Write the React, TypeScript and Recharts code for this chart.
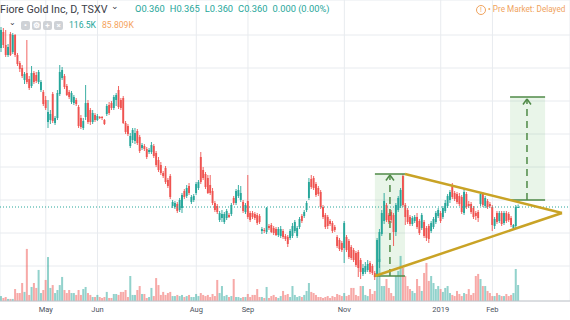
import React from 'react';
import {
  ComposedChart,
  Bar,
  XAxis,
  YAxis,
  CartesianGrid,
  ReferenceLine,
  ReferenceArea,
} from 'recharts';

// ---- daily OHLC (CAD), index 0 = first visible session (early April 2018) ----
const opens = [
  0.678, 0.710, 0.684, 0.664, 0.706, 0.670, 0.704, 0.664, 0.648, 0.638,
  0.614, 0.628, 0.616, 0.602, 0.628, 0.624, 0.610, 0.594, 0.590, 0.574,
  0.530, 0.534, 0.586, 0.528, 0.538, 0.586, 0.618, 0.622, 0.602, 0.590,
  0.570, 0.568, 0.574, 0.560, 0.538, 0.518, 0.540, 0.568, 0.554, 0.530,
  0.544, 0.534, 0.540, 0.540, 0.534, 0.546, 0.564, 0.568, 0.558, 0.574,
  0.594, 0.574, 0.578, 0.528, 0.522, 0.482, 0.494, 0.492, 0.512, 0.500,
  0.478, 0.482, 0.476, 0.470, 0.470, 0.482, 0.468, 0.454, 0.444, 0.428,
  0.438, 0.414, 0.422, 0.362, 0.360, 0.366, 0.354, 0.358, 0.392, 0.382,
  0.402, 0.370, 0.374, 0.388, 0.398, 0.460, 0.434, 0.426, 0.418, 0.404,
  0.392, 0.368, 0.362, 0.334, 0.338, 0.330, 0.338, 0.344, 0.346, 0.378,
  0.368, 0.382, 0.374, 0.370, 0.350, 0.372, 0.348, 0.348, 0.346, 0.344,
  0.342, 0.312, 0.314, 0.310, 0.322, 0.324, 0.318, 0.316, 0.304, 0.302,
  0.312, 0.302, 0.300, 0.298, 0.302, 0.312, 0.302, 0.320, 0.342, 0.342,
  0.354, 0.378, 0.416, 0.418, 0.406, 0.398, 0.390, 0.360, 0.344, 0.340,
  0.332, 0.328, 0.320, 0.300, 0.294, 0.288, 0.278, 0.300, 0.292, 0.280,
  0.274, 0.268, 0.270, 0.254, 0.226, 0.230, 0.234, 0.248, 0.242, 0.228,
  0.222, 0.250, 0.306, 0.332, 0.364, 0.344, 0.350, 0.344, 0.310, 0.354,
  0.362, 0.422, 0.364, 0.354, 0.340, 0.326, 0.332, 0.340, 0.332, 0.318,
  0.330, 0.318, 0.322, 0.312, 0.320, 0.330, 0.342, 0.348, 0.340, 0.352,
  0.362, 0.374, 0.402, 0.388, 0.386, 0.382, 0.380, 0.348, 0.386, 0.366,
  0.366, 0.358, 0.348, 0.350, 0.366, 0.386, 0.362, 0.372, 0.366, 0.360,
  0.322, 0.348, 0.332, 0.348, 0.328, 0.348, 0.346, 0.338, 0.318, 0.322,
  0.360,
];
const highs = [
  0.720, 0.718, 0.714, 0.686, 0.710, 0.708, 0.706, 0.668, 0.652, 0.644,
  0.630, 0.694, 0.622, 0.642, 0.632, 0.630, 0.634, 0.614, 0.594, 0.582,
  0.574, 0.554, 0.590, 0.542, 0.594, 0.644, 0.640, 0.626, 0.606, 0.594,
  0.592, 0.584, 0.578, 0.564, 0.544, 0.538, 0.604, 0.574, 0.558, 0.554,
  0.548, 0.546, 0.542, 0.542, 0.536, 0.566, 0.570, 0.572, 0.584, 0.588,
  0.602, 0.578, 0.582, 0.532, 0.526, 0.508, 0.518, 0.518, 0.516, 0.504,
  0.488, 0.486, 0.480, 0.478, 0.490, 0.486, 0.472, 0.460, 0.450, 0.432,
  0.442, 0.418, 0.426, 0.374, 0.372, 0.370, 0.378, 0.388, 0.396, 0.404,
  0.408, 0.384, 0.386, 0.410, 0.414, 0.470, 0.440, 0.430, 0.424, 0.424,
  0.398, 0.372, 0.366, 0.352, 0.354, 0.350, 0.356, 0.348, 0.368, 0.382,
  0.396, 0.404, 0.402, 0.374, 0.368, 0.424, 0.352, 0.352, 0.350, 0.348,
  0.346, 0.320, 0.318, 0.360, 0.326, 0.328, 0.322, 0.320, 0.320, 0.322,
  0.316, 0.306, 0.304, 0.316, 0.328, 0.334, 0.322, 0.340, 0.346, 0.354,
  0.372, 0.418, 0.424, 0.422, 0.410, 0.402, 0.394, 0.364, 0.348, 0.344,
  0.336, 0.332, 0.324, 0.304, 0.298, 0.292, 0.332, 0.304, 0.296, 0.284,
  0.278, 0.272, 0.274, 0.258, 0.246, 0.250, 0.254, 0.252, 0.246, 0.232,
  0.298, 0.316, 0.354, 0.388, 0.368, 0.348, 0.354, 0.348, 0.368, 0.382,
  0.398, 0.426, 0.368, 0.358, 0.344, 0.342, 0.344, 0.348, 0.336, 0.348,
  0.334, 0.322, 0.326, 0.332, 0.340, 0.352, 0.358, 0.352, 0.362, 0.374,
  0.386, 0.394, 0.408, 0.392, 0.390, 0.388, 0.384, 0.398, 0.390, 0.372,
  0.370, 0.362, 0.352, 0.354, 0.390, 0.390, 0.382, 0.376, 0.370, 0.364,
  0.340, 0.352, 0.352, 0.352, 0.352, 0.352, 0.350, 0.342, 0.326, 0.364,
  0.365,
];
const lows = [
  0.670, 0.678, 0.660, 0.660, 0.662, 0.666, 0.660, 0.642, 0.630, 0.618,
  0.606, 0.606, 0.594, 0.598, 0.606, 0.608, 0.606, 0.590, 0.562, 0.554,
  0.518, 0.526, 0.528, 0.524, 0.534, 0.582, 0.614, 0.596, 0.582, 0.576,
  0.566, 0.564, 0.562, 0.518, 0.516, 0.514, 0.534, 0.526, 0.524, 0.526,
  0.530, 0.532, 0.536, 0.534, 0.524, 0.542, 0.544, 0.554, 0.554, 0.562,
  0.556, 0.554, 0.526, 0.506, 0.502, 0.478, 0.488, 0.486, 0.484, 0.468,
  0.474, 0.472, 0.456, 0.466, 0.466, 0.458, 0.440, 0.430, 0.424, 0.418,
  0.406, 0.398, 0.376, 0.358, 0.356, 0.348, 0.350, 0.348, 0.376, 0.378,
  0.384, 0.366, 0.370, 0.384, 0.394, 0.406, 0.414, 0.396, 0.386, 0.384,
  0.364, 0.350, 0.346, 0.330, 0.330, 0.326, 0.334, 0.338, 0.342, 0.364,
  0.364, 0.378, 0.370, 0.348, 0.346, 0.336, 0.330, 0.336, 0.334, 0.324,
  0.326, 0.306, 0.308, 0.306, 0.314, 0.308, 0.304, 0.302, 0.300, 0.298,
  0.296, 0.292, 0.280, 0.294, 0.298, 0.308, 0.298, 0.316, 0.328, 0.338,
  0.350, 0.374, 0.396, 0.394, 0.380, 0.382, 0.356, 0.336, 0.316, 0.316,
  0.322, 0.308, 0.310, 0.278, 0.272, 0.270, 0.248, 0.270, 0.256, 0.254,
  0.250, 0.240, 0.220, 0.216, 0.222, 0.226, 0.230, 0.226, 0.224, 0.214,
  0.218, 0.238, 0.302, 0.326, 0.330, 0.326, 0.328, 0.282, 0.302, 0.350,
  0.358, 0.360, 0.324, 0.326, 0.322, 0.322, 0.328, 0.316, 0.304, 0.314,
  0.298, 0.292, 0.288, 0.308, 0.316, 0.326, 0.338, 0.328, 0.336, 0.348,
  0.358, 0.368, 0.376, 0.372, 0.366, 0.362, 0.346, 0.344, 0.356, 0.358,
  0.346, 0.336, 0.334, 0.330, 0.362, 0.360, 0.358, 0.356, 0.358, 0.312,
  0.316, 0.326, 0.328, 0.322, 0.324, 0.328, 0.330, 0.320, 0.314, 0.318,
  0.360,
];
const closes = [
  0.714, 0.684, 0.664, 0.680, 0.664, 0.704, 0.664, 0.646, 0.636, 0.622,
  0.626, 0.610, 0.598, 0.628, 0.610, 0.612, 0.630, 0.610, 0.566, 0.558,
  0.550, 0.546, 0.532, 0.538, 0.588, 0.630, 0.634, 0.600, 0.584, 0.580,
  0.588, 0.580, 0.566, 0.522, 0.520, 0.532, 0.568, 0.530, 0.530, 0.548,
  0.534, 0.542, 0.538, 0.538, 0.526, 0.562, 0.548, 0.558, 0.580, 0.584,
  0.560, 0.558, 0.528, 0.510, 0.506, 0.502, 0.514, 0.508, 0.488, 0.472,
  0.484, 0.476, 0.460, 0.474, 0.484, 0.462, 0.444, 0.434, 0.428, 0.422,
  0.410, 0.402, 0.380, 0.370, 0.368, 0.352, 0.374, 0.384, 0.380, 0.398,
  0.388, 0.380, 0.382, 0.406, 0.410, 0.410, 0.418, 0.400, 0.388, 0.388,
  0.368, 0.354, 0.350, 0.348, 0.346, 0.346, 0.352, 0.340, 0.364, 0.368,
  0.392, 0.394, 0.388, 0.352, 0.364, 0.340, 0.334, 0.340, 0.338, 0.328,
  0.330, 0.316, 0.312, 0.358, 0.318, 0.310, 0.308, 0.304, 0.316, 0.316,
  0.300, 0.296, 0.286, 0.312, 0.322, 0.330, 0.318, 0.336, 0.332, 0.350,
  0.368, 0.410, 0.400, 0.398, 0.384, 0.386, 0.360, 0.340, 0.320, 0.322,
  0.326, 0.312, 0.314, 0.282, 0.276, 0.274, 0.328, 0.274, 0.260, 0.258,
  0.254, 0.244, 0.238, 0.230, 0.238, 0.242, 0.246, 0.230, 0.228, 0.220,
  0.294, 0.310, 0.348, 0.372, 0.334, 0.330, 0.334, 0.310, 0.364, 0.378,
  0.394, 0.364, 0.340, 0.330, 0.326, 0.338, 0.340, 0.320, 0.308, 0.344,
  0.302, 0.298, 0.296, 0.328, 0.336, 0.348, 0.354, 0.332, 0.358, 0.368,
  0.382, 0.390, 0.380, 0.376, 0.370, 0.366, 0.350, 0.390, 0.360, 0.362,
  0.350, 0.340, 0.342, 0.338, 0.386, 0.364, 0.378, 0.360, 0.362, 0.324,
  0.336, 0.330, 0.348, 0.326, 0.348, 0.332, 0.334, 0.324, 0.324, 0.360,
  0.360,
];
// volume, thousands of shares
const volumes = [
  36, 22, 29, 15, 15, 15, 87, 58, 58, 131,
  66, 379, 44, 102, 131, 95, 226, 58, 80, 153,
  320, 95, 116, 58, 80, 116, 175, 80, 58, 80,
  58, 58, 44, 80, 44, 87, 102, 58, 44, 29,
  29, 44, 29, 22, 29, 66, 22, 22, 51, 51,
  44, 66, 66, 80, 29, 182, 44, 44, 80, 109,
  51, 51, 22, 29, 95, 36, 167, 116, 44, 66,
  44, 58, 66, 36, 36, 44, 36, 44, 29, 36,
  44, 29, 29, 51, 36, 58, 44, 36, 44, 29,
  51, 36, 153, 58, 109, 36, 44, 29, 36, 160,
  29, 29, 22, 29, 29, 51, 29, 44, 44, 87,
  29, 29, 22, 102, 22, 36, 44, 29, 22, 36,
  73, 44, 51, 29, 109, 44, 29, 36, 29, 44,
  73, 131, 66, 58, 44, 29, 29, 22, 29, 36,
  22, 36, 29, 51, 44, 36, 58, 36, 44, 95,
  95, 44, 36, 109, 109, 44, 36, 87, 51, 73,
  167, 306, 109, 109, 160, 95, 58, 36, 182, 218,
  328, 240, 182, 109, 87, 73, 58, 160, 109, 73,
  204, 277, 146, 182, 131, 87, 109, 87, 66, 95,
  109, 58, 44, 36, 73, 51, 36, 58, 51, 87,
  44, 58, 182, 197, 160, 109, 109, 73, 58, 36,
  36, 58, 44, 36, 36, 51, 36, 44, 58, 233,
  116.5,
];

const tickIndex = [19, 41, 83, 105, 146, 187, 209];
const tickLabels = ['May', 'Jun', 'Aug', 'Sep', 'Nov', '2019', 'Feb'];
const gridPrices = [0.704, 0.638, 0.572, 0.506, 0.44, 0.374, 0.308, 0.242];
const lastPrice = 0.36;

// pattern drawing (session index, price)
const poleX = [159, 171.8];
const poleY = [0.222, 0.426];
const targetX = [216.5, 231.4];
const targetY = [0.374, 0.58];
const apexPoint = [238.6, 0.348];
const arrowX = [165.4, 223.7];
const arrowFrom = [0.222, 0.374];
const arrowTo = [0.424, 0.576];

const UP = '#26a69a';
const DOWN = '#ef5350';
const UP_VOL = 'rgba(38,166,154,0.5)';
const DOWN_VOL = 'rgba(239,83,80,0.5)';
const GREEN_LINE = '#4f8a47';
const GOLD = '#c9a326';

const data = opens.map((o, i) => ({
  i,
  open: o,
  high: highs[i],
  low: lows[i],
  close: closes[i],
  vol: volumes[i],
}));

const Candle = (props: any) => {
  const { x, y, width, height, payload } = props;
  if (!payload) return null;
  const { open, close, high, low } = payload;
  const top = Math.min(y, y + height);
  const bottom = Math.max(y, y + height);
  const range = high - low;
  const py = (p: number) => (range === 0 ? top : top + ((high - p) / range) * (bottom - top));
  const up = close >= open;
  const color = up ? UP : DOWN;
  const cx = x + width / 2;
  const bTop = py(Math.max(open, close));
  const bBot = py(Math.min(open, close));
  return (
    <g>
      <line x1={cx} x2={cx} y1={top} y2={Math.max(bottom, top + 1)} stroke={color} strokeWidth={0.9} />
      <rect x={cx - 0.95} y={bTop} width={1.9} height={Math.max(1, bBot - bTop)} fill={color} />
    </g>
  );
};

const VolumeBar = (props: any) => {
  const { x, y, width, height, payload } = props;
  if (!payload) return null;
  const up = payload.close >= payload.open;
  return <rect x={x} y={y} width={width} height={Math.max(0, height)} fill={up ? UP_VOL : DOWN_VOL} />;
};

const Btn = ({ left, glyph }: { left: number; glyph: string }) => (
  <div
    style={{
      position: 'absolute',
      left,
      top: 21,
      width: 9,
      height: 9,
      borderRadius: 2,
      background: '#cfd2d6',
      color: '#fff',
      fontSize: 8,
      lineHeight: '9px',
      textAlign: 'center',
      fontWeight: 700,
    }}
  >
    {glyph}
  </div>
);

export default function App() {
  return (
    <div
      style={{
        position: 'absolute',
        left: 0,
        top: 0,
        width: 570,
        height: 320,
        overflow: 'hidden',
        background: '#ffffff',
        fontFamily: 'Roboto, "Noto Sans", sans-serif',
      }}
    >
      <ComposedChart width={570} height={320} data={data} margin={{ top: 0, right: 0, bottom: 0, left: 0 }}>
        <CartesianGrid xAxisId="x" yAxisId="p" stroke="#e8ebef" strokeWidth={1} />
        <XAxis
          xAxisId="x"
          dataKey="i"
          type="number"
          domain={[-0.5, 242]}
          allowDataOverflow
          ticks={tickIndex}
          interval={0}
          tickFormatter={(v: number) => tickLabels[tickIndex.indexOf(v)] ?? ''}
          height={19}
          tickLine={false}
          tickSize={4}
          axisLine={{ stroke: '#c3c6cb' }}
          tick={{ fontSize: 7.5, fill: '#4c525e' }}
        />
        <XAxis xAxisId="xv" dataKey="i" type="number" domain={[-0.5, 242]} allowDataOverflow hide />
        <YAxis yAxisId="p" type="number" domain={[0.172, 0.774]} allowDataOverflow ticks={gridPrices} hide />
        <YAxis yAxisId="v" type="number" domain={[0, 2191]} allowDataOverflow hide />

        <Bar
          xAxisId="xv"
          yAxisId="v"
          dataKey="vol"
          barSize={2}
          isAnimationActive={false}
          shape={<VolumeBar />}
        />

        <ReferenceLine
          xAxisId="x"
          yAxisId="p"
          y={lastPrice}
          stroke="#26a69a"
          strokeDasharray="1 2"
          strokeWidth={1}
        />

        <Bar
          xAxisId="x"
          yAxisId="p"
          dataKey={(d: any) => [d.low, d.high]}
          barSize={2}
          isAnimationActive={false}
          shape={<Candle />}
        />

        <ReferenceArea
          xAxisId="x"
          yAxisId="p"
          x1={poleX[0]}
          x2={poleX[1]}
          y1={poleY[0]}
          y2={poleY[1]}
          fill="rgba(76,175,80,0.25)"
          stroke="none"
          ifOverflow="visible"
        />
        <ReferenceArea
          xAxisId="x"
          yAxisId="p"
          x1={targetX[0]}
          x2={targetX[1]}
          y1={targetY[0]}
          y2={targetY[1]}
          fill="rgba(76,175,80,0.25)"
          stroke="none"
          ifOverflow="visible"
        />
        {[0, 1].map((k) => (
          <ReferenceLine
            key={`pt${k}`}
            xAxisId="x"
            yAxisId="p"
            segment={[
              { x: poleX[0], y: poleY[k] },
              { x: poleX[1], y: poleY[k] },
            ]}
            stroke={GREEN_LINE}
            strokeWidth={1.5}
            ifOverflow="visible"
          />
        ))}
        {[0, 1].map((k) => (
          <ReferenceLine
            key={`tt${k}`}
            xAxisId="x"
            yAxisId="p"
            segment={[
              { x: targetX[0], y: targetY[k] },
              { x: targetX[1], y: targetY[k] },
            ]}
            stroke={GREEN_LINE}
            strokeWidth={1.5}
            ifOverflow="visible"
          />
        ))}
        {[0, 1].map((k) => (
          <ReferenceLine
            key={`ar${k}`}
            xAxisId="x"
            yAxisId="p"
            segment={[
              { x: arrowX[k], y: arrowFrom[k] },
              { x: arrowX[k], y: arrowTo[k] },
            ]}
            stroke={GREEN_LINE}
            strokeWidth={1.5}
            strokeDasharray="7 5"
            ifOverflow="visible"
          />
        ))}
        {[0, 1].map((k) =>
          [-1.7, 1.7].map((d) => (
            <ReferenceLine
              key={`ah${k}${d}`}
              xAxisId="x"
              yAxisId="p"
              segment={[
                { x: arrowX[k] + d, y: arrowTo[k] - 0.011 },
                { x: arrowX[k], y: arrowTo[k] },
              ]}
              stroke={GREEN_LINE}
              strokeWidth={1.5}
              ifOverflow="visible"
            />
          ))
        )}
        <ReferenceLine
          xAxisId="x"
          yAxisId="p"
          segment={[
            { x: poleX[1], y: poleY[1] },
            { x: apexPoint[0], y: apexPoint[1] },
          ]}
          stroke={GOLD}
          strokeWidth={2.5}
          ifOverflow="visible"
        />
        <ReferenceLine
          xAxisId="x"
          yAxisId="p"
          segment={[
            { x: poleX[0], y: poleY[0] },
            { x: apexPoint[0], y: apexPoint[1] },
          ]}
          stroke={GOLD}
          strokeWidth={2.5}
          ifOverflow="visible"
        />
      </ComposedChart>

      {/* legend / header */}
      <div style={{ position: 'absolute', left: 0, top: 3, fontSize: 10.7, color: '#3c4048', whiteSpace: 'nowrap' }}>
        Fiore Gold Inc, D, TSXV
      </div>
      <div style={{ position: 'absolute', left: 111, top: 1, fontSize: 9, color: '#3c4048' }}>⌄</div>
      <div style={{ position: 'absolute', left: 135, top: 3, fontSize: 9.3, color: '#26a69a', whiteSpace: 'nowrap' }}>
        <span>O0.360</span>
        <span style={{ marginLeft: 5 }}>H0.365</span>
        <span style={{ marginLeft: 5 }}>L0.360</span>
        <span style={{ marginLeft: 5 }}>C0.360</span>
        <span style={{ marginLeft: 5 }}>0.000 (0.00%)</span>
      </div>
      <div style={{ position: 'absolute', left: 9, top: 18, fontSize: 8, color: '#3c4048' }}>⌄</div>
      <Btn left={21} glyph="•" />
      <Btn left={32} glyph="⚙" />
      <Btn left={43} glyph="+" />
      <Btn left={54} glyph="×" />
      <div style={{ position: 'absolute', left: 69, top: 20, fontSize: 8.6, color: '#26a69a', whiteSpace: 'nowrap' }}>
        116.5K
      </div>
      <div style={{ position: 'absolute', left: 102, top: 20, fontSize: 8.6, color: '#f5a35c', whiteSpace: 'nowrap' }}>
        85.809K
      </div>
      <div
        style={{
          position: 'absolute',
          left: 476,
          top: 5,
          width: 8,
          height: 8,
          borderRadius: '50%',
          border: '1px solid #f0a35e',
          color: '#f0a35e',
          fontSize: 7,
          lineHeight: '8px',
          textAlign: 'center',
        }}
      >
        !
      </div>
      <div style={{ position: 'absolute', left: 488, top: 4, fontSize: 8.2, color: '#f0a35e', whiteSpace: 'nowrap' }}>
        • Pre Market: Delayed
      </div>
    </div>
  );
}
